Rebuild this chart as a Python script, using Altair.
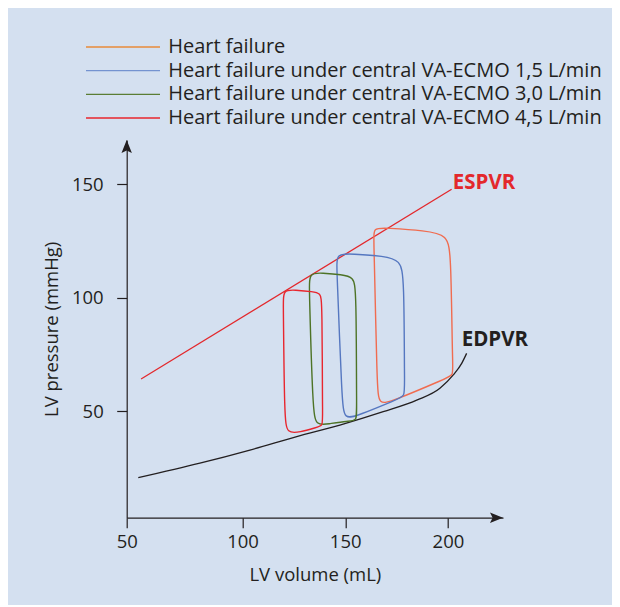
import altair as alt
import pandas as pd

BG = "#d4e0f0"
INK = "#231f20"
FONT = "Open Sans"

# ---- data ----
series = ["Heart failure",
          "Heart failure under central VA-ECMO 1,5 L/min",
          "Heart failure under central VA-ECMO 3,0 L/min",
          "Heart failure under central VA-ECMO 4,5 L/min"]
loop_colors = ["#f06c50", "#5577c0", "#4d7326", "#e8262e"]
legend_colors = ["#e98b3a", "#7493d0", "#5a7d34", "#e8262e"]

# PV-loop outlines (control points, volume mL / pressure mmHg)
hf_vol = [164.0, 163.6, 169.8, 188.8, 199.9, 201.5, 202.2, 202.7, 199.0, 172.7, 166.4, 165.5]
hf_pres = [125.3, 130.8, 130.6, 129.5, 127.7, 118.3, 69.8, 65.9, 64.3, 54.2, 52.9, 60.1]
e15_vol = [146.0, 145.5, 153.3, 168.9, 176.8, 178.7, 178.8, 179.1, 175.2, 156.2, 149.6, 148.4]
e15_pres = [112.1, 119.4, 119.2, 118.3, 116.4, 109.0, 61.5, 56.6, 55.1, 48.0, 46.3, 54.0]
e30_vol = [132.5, 132.4, 138.7, 148.4, 154.0, 155.4, 155.5, 155.7, 151.3, 141.6, 135.8, 134.2]
e30_pres = [103.3, 111.0, 110.8, 110.1, 109.0, 103.7, 50.4, 45.6, 45.6, 44.3, 43.6, 50.4]
e45_vol = [119.9, 119.7, 125.5, 134.3, 137.9, 138.8, 138.9, 139.2, 135.8, 128.0, 121.7, 120.4]
e45_pres = [96.7, 103.5, 103.3, 102.6, 101.9, 98.5, 46.9, 43.6, 42.7, 40.7, 40.0, 46.9]

espvr_vol = [56.2, 201.8]
espvr_pres = [64.1, 147.7]

edpvr_vol = [55.0, 81.6, 103.6, 126.4, 147.4, 168.5, 184.8, 196.1, 202.6, 206.7, 209.1]
edpvr_pres = [20.6, 27.0, 32.8, 38.7, 43.8, 49.7, 54.8, 60.0, 65.9, 71.0, 75.4]

label_text = ["ESPVR", "EDPVR"]
label_vol = [202.4, 206.7]
label_pres = [150.6, 81.3]
label_color = ["#e3282c", INK]

x_ticks = [50, 100, 150, 200]
y_ticks = [50, 100, 150]

# ---- tables ----
loops = []
for name, col, vs, ps in zip(series, loop_colors, [hf_vol, e15_vol, e30_vol, e45_vol],
                             [hf_pres, e15_pres, e30_pres, e45_pres]):
    for i, (v, p) in enumerate(zip(vs, ps)):
        loops.append({"series": name, "c": col, "step": i, "vol": v, "pres": p})
loops = pd.DataFrame(loops)
espvr = pd.DataFrame({"vol": espvr_vol, "pres": espvr_pres})
edpvr = pd.DataFrame({"vol": edpvr_vol, "pres": edpvr_pres})
labels = pd.DataFrame({"t": label_text, "vol": label_vol, "pres": label_pres, "c": label_color})
legend_df = pd.DataFrame({"series": series, "c": legend_colors})

W, H = 376.3, 377.7
xscale = alt.Scale(domain=[50, 100, 226.8], range=[0, 115.8, W], nice=False, zero=False)
yscale = alt.Scale(domain=[3, 169.4], nice=False, zero=False)

common_axis = dict(grid=False, domainColor=INK, tickColor=INK, labelColor=INK, titleColor=INK,
                   labelFont=FONT, titleFont=FONT, labelFontSize=18.5, titleFontSize=18.5,
                   titleFontWeight="normal", domainWidth=1.2, tickWidth=1.2, tickSize=10,
                   labelFlush=False)
xaxis = alt.Axis(values=x_ticks, title="LV volume (mL)", labelPadding=5, titlePadding=14, **common_axis)
yaxis = alt.Axis(values=y_ticks, title="LV pressure (mmHg)", labelPadding=13.5, titlePadding=10, **common_axis)

X = alt.X("vol:Q", scale=xscale, axis=xaxis)
Y = alt.Y("pres:Q", scale=yscale, axis=yaxis)

espvr_line = alt.Chart(espvr).mark_line(color="#e3282c", strokeWidth=1.3).encode(x=X, y=Y)
edpvr_line = alt.Chart(edpvr).mark_line(color=INK, strokeWidth=1.3, interpolate="monotone").encode(x=X, y=Y)

loop_lines = alt.Chart(loops).mark_line(interpolate="basis-closed", strokeWidth=1.4).encode(
    x=X, y=Y, order="step:Q", detail="series:N",
    color=alt.Color("c:N", scale=None),
)

text = alt.Chart(labels).mark_text(align="left", baseline="middle", font=FONT, fontSize=20.5,
                                   fontWeight="bold").encode(
    x=X, y=Y, text="t:N", color=alt.Color("c:N", scale=None))

y_arrow = alt.Chart(espvr.head(1)).mark_point(
    shape="M0,0 L0.4,1 L0,0.8 L-0.4,1 Z", size=676, filled=True, color=INK, opacity=1
).encode(x=alt.value(0), y=alt.value(0))
x_arrow = alt.Chart(espvr.head(1)).mark_point(
    shape="M0,0 L-1,-0.4 L-0.8,0 L-1,0.4 Z", size=676, filled=True, color=INK, opacity=1
).encode(x=alt.value(W), y=alt.value(H))

plot = alt.layer(espvr_line, edpvr_line, loop_lines, text, y_arrow, x_arrow)

# legend drawn as marks (rows on their own point scale above the plot)
rowY = alt.Y("series:N", scale=alt.Scale(type="point", domain=series, range=[-93, -22], padding=0),
             axis=None)
leg_lines = alt.Chart(legend_df).mark_rule(strokeWidth=1.3).encode(
    x=alt.value(-40.7), x2=alt.value(33.3), y=rowY, color=alt.Color("c:N", scale=None))
leg_text = alt.Chart(legend_df).mark_text(align="left", baseline="middle", font=FONT,
                                          fontSize=20, color=INK).encode(
    x=alt.value(41.5), y=rowY, text="series:N")
legend = alt.layer(leg_lines, leg_text)

chart = alt.layer(plot, legend).resolve_scale(y="independent").properties(
    width=W, height=H,
    autosize=alt.AutoSizeParams(type="none"),
    padding={"left": 118.7, "top": 132, "right": 109, "bottom": 87},
    background=BG,
).configure_view(stroke=None)

chart.save("out.html", embed_options={"renderer": "svg", "actions": False})
